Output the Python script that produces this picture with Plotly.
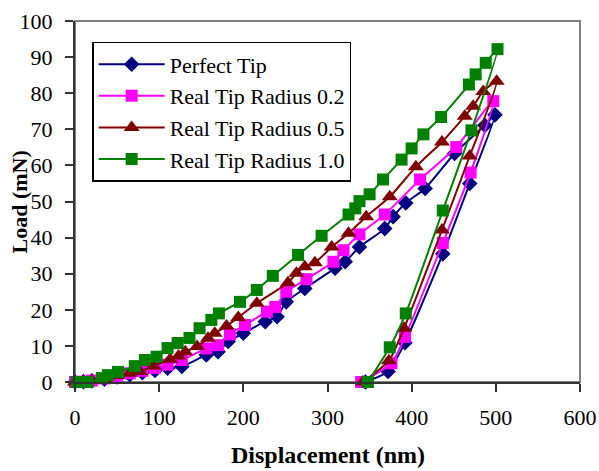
import plotly.graph_objects as go

# ---- data (displacement nm, load mN) ----
perfect_x = [0, 10, 20, 35, 50, 65, 80, 95, 110, 127, 156, 170, 182, 200, 226, 240, 251, 273, 309, 321, 338, 368, 378, 393, 416, 451, 487, 499,
             469, 437, 392, 372, 345]
perfect_y = [0, 0.1, 0.3, 0.8, 1.4, 2.0, 2.6, 3.2, 3.8, 4.3, 7.5, 8.4, 11.2, 13.5, 16.7, 18.1, 22.2, 25.9, 31.5, 33.3, 37.4, 42.5, 45.8, 49.6, 53.6, 63.3, 71.1, 74.0,
             55.0, 35.5, 10.9, 2.9, 0]

r02_x = [0, 10, 20, 35, 50, 65, 80, 95, 110, 127, 156, 170, 184, 202, 228, 238, 251, 275, 307, 319, 338, 368, 410, 453, 497,
         470, 437, 392, 376, 340]
r02_y = [0, 0.1, 0.4, 1.0, 1.7, 2.4, 3.1, 3.9, 4.8, 6.1, 9.3, 10.2, 13.2, 15.8, 19.5, 20.8, 25.0, 28.5, 33.3, 36.5, 40.9, 46.4, 56.1, 65.1, 77.8,
         58.0, 38.5, 12.5, 5.2, 0]

r05_x = [0, 10, 20, 35, 50, 65, 77, 93, 113, 123, 131, 145, 158, 166, 180, 194, 216, 253, 263, 273, 285, 305, 325, 346, 374, 405, 436, 463, 473, 485, 501,
         469, 436, 391, 373, 342]
r05_y = [0, 0.1, 0.4, 1.0, 1.8, 2.4, 2.9, 4.4, 6.3, 7.2, 8.4, 9.8, 12.1, 13.5, 15.5, 17.9, 21.8, 27.5, 30.1, 31.9, 33.0, 37.4, 41.2, 45.8, 51.3, 59.6, 66.5, 73.6, 76.4, 80.5, 83.3,
         62.6, 42.1, 14.9, 5.9, 0]

r10_x = [2, 15, 32, 39, 51, 71, 83, 97, 110, 122, 136, 148, 162, 171, 196, 216, 235, 265, 293, 325, 333, 338, 350, 366, 388, 400, 414, 435, 468, 476, 488, 502,
         471, 437, 393, 374, 348]
r10_y = [0, 0, 1.1, 1.9, 2.8, 4.4, 6.1, 7.0, 9.4, 10.8, 12.2, 14.9, 17.2, 19.0, 22.2, 25.5, 29.4, 35.2, 40.5, 46.4, 48.1, 50.1, 52.0, 56.1, 61.6, 64.7, 68.6, 73.4, 82.4, 85.2, 88.4, 92.2,
         69.7, 47.5, 19.0, 9.6, 0]

x_ticks = [0, 100, 200, 300, 400, 500, 600]
y_ticks = [0, 10, 20, 30, 40, 50, 60, 70, 80, 90, 100]

series = [
    ("Perfect Tip", perfect_x, perfect_y, "#000080", "diamond", 12),
    ("Real Tip Radius 0.2", r02_x, r02_y, "#FF00FF", "square", 12),
    ("Real Tip Radius 0.5", r05_x, r05_y, "#800000", "triangle-up", 14),
    ("Real Tip Radius 1.0", r10_x, r10_y, "#008000", "square", 12),
]

FONT = "Liberation Serif, Times New Roman, serif"

fig = go.Figure()
for name, xs, ys, col, sym, sz in series:
    fig.add_trace(go.Scatter(
        x=xs, y=ys, name=name, mode="lines+markers",
        line=dict(color=col, width=2, shape="spline", smoothing=0.6),
        marker=dict(color=col, symbol=sym, size=sz, line=dict(width=0)),
        cliponaxis=False,
    ))

fig.add_shape(type="rect", xref="paper", yref="paper", x0=0, x1=1, y0=0, y1=1,
              line=dict(color="#808080", width=2), layer="below")

# axis titles as annotations
fig.add_annotation(text="<b>Displacement (nm)</b>", xref="paper", yref="paper",
                   x=0.5, y=-0.202, xanchor="center", yanchor="middle", showarrow=False,
                   font=dict(family=FONT, size=24, color="black"))
fig.add_annotation(text="<b>Load (mN)</b>", xref="paper", yref="paper",
                   x=-0.109, y=0.5, xanchor="center", yanchor="middle", showarrow=False, textangle=-90,
                   font=dict(family=FONT, size=22, color="black"))

fig.update_layout(
    width=599, height=471,
    margin=dict(l=75, r=19, t=21, b=89),
    paper_bgcolor="white", plot_bgcolor="white",
    font=dict(family=FONT, size=22, color="black"),
    showlegend=True,
    legend=dict(x=0.034, y=0.942, xanchor="left", yanchor="top",
                bgcolor="white", bordercolor="black", borderwidth=1.5,
                font=dict(family=FONT, size=22, color="black"),
                itemwidth=66, tracegroupgap=0),
    xaxis=dict(range=[0, 600], tickvals=x_ticks, ticktext=[str(v) for v in x_ticks],
               automargin=False, ticklabelstandoff=7,
               showgrid=False, zeroline=False, showline=True, linecolor="#333333", linewidth=2,
               ticks="outside", ticklen=8, tickwidth=2, tickcolor="#333333",
               tickfont=dict(family=FONT, size=22, color="black")),
    yaxis=dict(range=[0, 100], tickvals=y_ticks, ticktext=[str(v) for v in y_ticks],
               automargin=False, ticklabelstandoff=8,
               showgrid=False, zeroline=False, showline=True, linecolor="#333333", linewidth=2,
               ticks="outside", ticklen=8, tickwidth=2, tickcolor="#333333",
               tickfont=dict(family=FONT, size=22, color="black")),
)

fig.write_html("out.html", post_script="document.body.style.margin='0px';",
               config={"displayModeBar": False})
